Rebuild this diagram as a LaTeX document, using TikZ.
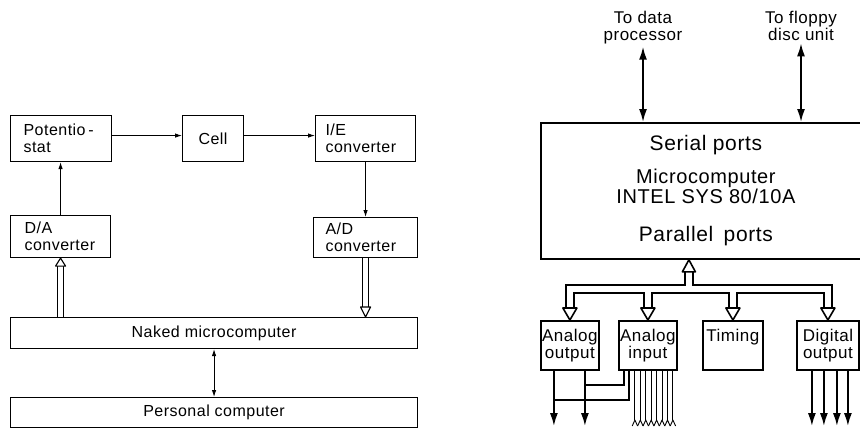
\documentclass[tikz,border=0pt]{standalone}
\usepackage{fontspec}
\setmainfont{Liberation Sans}[LetterSpace=3]
\usetikzlibrary{arrows.meta,calc}
\newcommand{\lfont}{\fontsize{16}{17}\selectfont}
\newcommand{\rfont}{\fontsize{20}{20}\selectfont}
\newcommand{\pfont}{\fontsize{21}{20}\selectfont}
\newcommand{\sfont}{\fontsize{17}{17}\selectfont}
\newcommand{\tfont}{\fontsize{17}{16.5}\selectfont}
\begin{document}
\begin{tikzpicture}[x=1pt,y=-1pt,
  lb/.style={draw,line width=1.1pt,inner sep=0pt,anchor=north west,font=\lfont},
  rb/.style={draw,line width=1.8pt,inner sep=0pt,anchor=north west},
  la/.style={line width=0.9pt,-{Latex[length=7pt,width=4.5pt]}},
  la2/.style={line width=0.9pt,{Latex[length=7pt,width=4.5pt]}-{Latex[length=7pt,width=4.5pt]}},
  ra/.style={line width=1.7pt,-{Latex[length=13pt,width=8pt]}},
  ra2/.style={line width=1.7pt,{Latex[length=13pt,width=8pt]}-{Latex[length=13pt,width=8pt]}},
  ln/.style={line width=1.1pt},
  rl/.style={line width=1.7pt},
  thinl/.style={line width=0.9pt},
  hol/.style={line width=1.1pt,fill=white,line join=round},
  rhol/.style={line width=1.6pt,fill=white,line join=round},
]
\useasboundingbox (0,0) rectangle (860,428);
\clip (0,0) rectangle (860,428);

% ---------------- left diagram ----------------
\node[lb,minimum width=101pt,minimum height=46pt,text width=75pt,inner xsep=13pt,align=left] (pot) at (10,115) {Potentio\,-\\stat};
\node[lb,minimum width=61pt,minimum height=46pt] (cell) at (182,115) {Cell};
\node[lb,minimum width=100pt,minimum height=46pt,text width=80pt,inner xsep=10pt,align=left] (ie) at (315,115) {I/E\\converter};
\node[lb,minimum width=100pt,minimum height=42pt,text width=72pt,inner xsep=14pt,align=left] (da) at (10,215) {D/A\\converter};
\node[lb,minimum width=104pt,minimum height=40pt,text width=80pt,inner xsep=12pt,align=left] (ad) at (313,217) {A/D\\converter};
\node[lb,minimum width=407pt,minimum height=31pt] (naked) at (10,317) {Naked microcomputer};
\node[lb,minimum width=407pt,minimum height=30pt] (pc) at (10,397) {Personal computer};

\draw[la] ([yshift=3pt]pot.east) -- ([yshift=3pt]cell.west);
\draw[la] ([yshift=3pt]cell.east) -- ([yshift=3pt]ie.west);
\draw[la] (da.north) -- (da.north |- pot.south);
\draw[la] (ie.south) -- (ad.north);
\draw[la2] (naked.south) -- (pc.north);

% double hollow arrow naked -> D/A
\coordinate (daL) at ([xshift=-3pt,yshift=-8pt]da.south);
\coordinate (daR) at ([xshift=3pt,yshift=-8pt]da.south);
\draw[ln] (daL) -- (daL |- naked.north);
\draw[ln] (daR) -- (daR |- naked.north);
\draw[hol] (da.south) -- ([xshift=-5pt,yshift=-8pt]da.south) -- ([xshift=5pt,yshift=-8pt]da.south) -- cycle;

% double hollow arrow A/D -> naked
\coordinate (adTip) at (ad.south |- naked.north);
\coordinate (adL) at ([xshift=-3pt,yshift=10pt]adTip);
\coordinate (adR) at ([xshift=3pt,yshift=10pt]adTip);
\draw[ln] (adL) -- (adL |- ad.south);
\draw[ln] (adR) -- (adR |- ad.south);
\draw[hol] (adTip) -- ([xshift=-5pt,yshift=10pt]adTip) -- ([xshift=5pt,yshift=10pt]adTip) -- cycle;

% ---------------- right diagram ----------------
\node[rb,minimum width=330pt,minimum height=136pt,font=\rfont,align=center] (mc) at (540,122)
  {{\pfont Serial ports}\\[13pt]Microcomputer\\INTEL SYS 80/10A\\[18pt]{\pfont Parallel\hspace{4pt} ports}};

\node[font=\tfont,align=center,inner sep=0pt,anchor=north] (dp) at (643,11) {To data\\processor};
\node[font=\tfont,align=center,inner sep=0pt,anchor=north] (ff) at (801,11) {To floppy\\disc unit};
\draw[ra2] ([yshift=-3pt]dp.south) -- (dp.south |- mc.north);
\draw[ra2] ([yshift=-3pt]ff.south) -- (ff.south |- mc.north);

\node[rb,minimum width=58pt,minimum height=49pt,font=\sfont,align=center] (ao) at (540,320) {Analog\\output};
\node[rb,minimum width=58pt,minimum height=49pt,font=\sfont,align=center] (ai) at (618,320) {Analog\\input};
\node[rb,minimum width=60pt,minimum height=49pt,font=\sfont,align=center] (tm) at (702,320) {Timing\\\phantom{output}};
\node[rb,minimum width=62pt,minimum height=49pt,font=\sfont,align=center] (do) at (796,320) {Digital\\output};

% parallel bus
\coordinate (stem) at ([xshift=-17pt]mc.south);
\coordinate (sL) at ([xshift=-4pt,yshift=-12pt]stem);
\coordinate (sR) at ([xshift=4pt,yshift=-12pt]stem);
\coordinate (bT) at ([yshift=-25pt]stem);
\coordinate (bB) at ([yshift=-33pt]stem);
\foreach \b in {ao,ai,tm,do}{
  \coordinate (\b-l) at ([xshift=-4pt,yshift=12pt]\b.north);
  \coordinate (\b-r) at ([xshift=4pt,yshift=12pt]\b.north);
}
\draw[rl] (sL) -- (sL |- bT) -- (ao-l |- bT) -- (ao-l);
\draw[rl] (sR) -- (sR |- bT) -- (do-r |- bT) -- (do-r);
\draw[rl] (ao-r) -- (ao-r |- bB) -- (ai-l |- bB) -- (ai-l);
\draw[rl] (ai-r) -- (ai-r |- bB) -- (tm-l |- bB) -- (tm-l);
\draw[rl] (tm-r) -- (tm-r |- bB) -- (do-l |- bB) -- (do-l);
\draw[rhol] (stem) -- ([xshift=-6.5pt,yshift=-12pt]stem) -- ([xshift=6.5pt,yshift=-12pt]stem) -- cycle;
\foreach \b in {ao,ai,tm,do}{
  \draw[rhol] (\b.north) -- ([xshift=-7pt,yshift=12pt]\b.north) -- ([xshift=7pt,yshift=12pt]\b.north) -- cycle;
}

% analog output wires
\coordinate (bot) at (0,426);
\coordinate (w1) at ([xshift=-16pt]ao.south);
\coordinate (w2) at ([xshift=15pt]ao.south);
\draw[ra] (w1) -- (w1 |- bot);
\draw[ra] (w2) -- (w2 |- bot);
\coordinate (f1) at ([xshift=-24pt]ai.south);
\coordinate (f2) at ([xshift=-19pt]ai.south);
\draw[rl] (f1) |- ([yshift=-14pt]w2);
\draw[rl] (f2) |- ([yshift=-29pt]w1);

% analog input lines
\coordinate (cb) at (0,420);
\foreach \dx in {-13,-7.57,-2.14,3.29,8.71,14.14,19.57,25}{
  \coordinate (c) at ([xshift=\dx pt]ai.south);
  \draw[thinl,line join=round] (c) -- (c |- cb);
  \draw[thinl,line join=round] ($(c |- cb)+(-2.7,6)$) -- (c |- cb) -- ($(c |- cb)+(2.7,6)$);
}

% digital outputs
\foreach \dx in {-16,-4,9,20}{
  \coordinate (d) at ([xshift=\dx pt]do.south);
  \draw[ra] (d) -- (d |- bot);
}
\end{tikzpicture}
\end{document}
